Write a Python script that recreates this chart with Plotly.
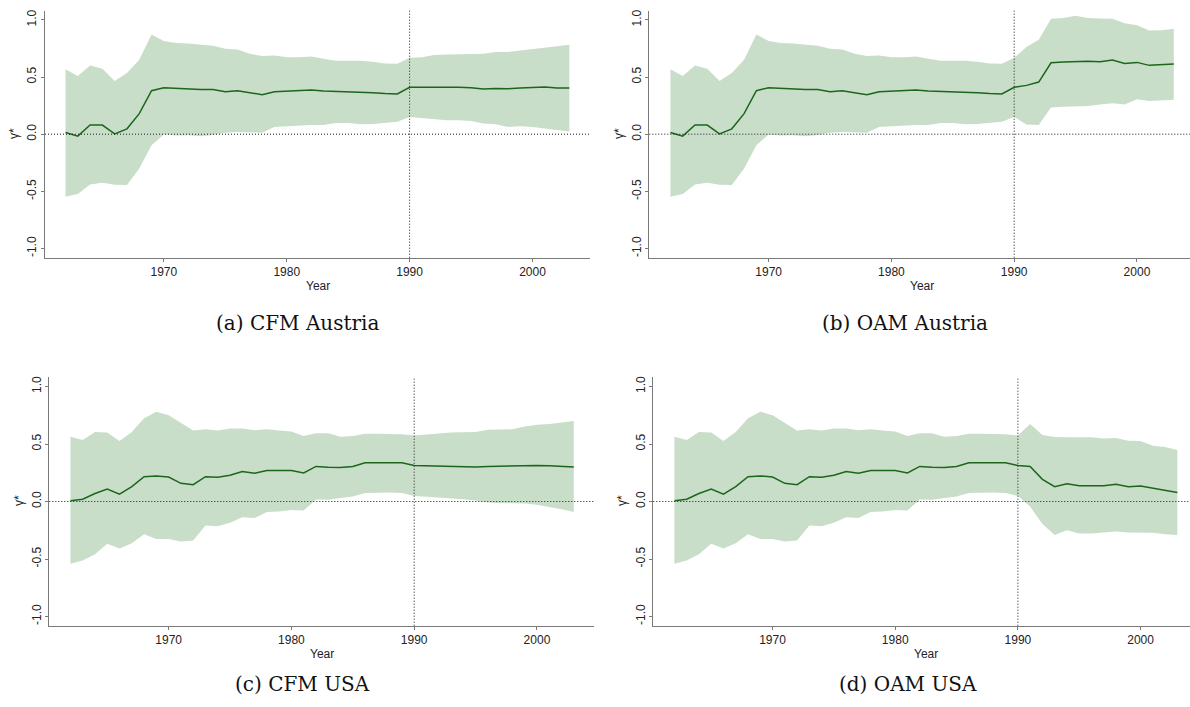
import plotly.graph_objects as go

# Estimation years
years = list(range(1962, 2004))

# (a) CFM Austria
cfm_at_mean = [0.015, -0.017, 0.08, 0.08, 0.003, 0.047, 0.18, 0.38, 0.407, 0.40,
               0.398, 0.39, 0.39, 0.372, 0.38, 0.363, 0.346, 0.372, 0.375, 0.38,
               0.386, 0.378, 0.375, 0.375, 0.372, 0.363, 0.355, 0.352, 0.41, 0.41,
               0.416, 0.41, 0.41, 0.407, 0.395, 0.40, 0.398, 0.404, 0.407, 0.413,
               0.404, 0.404]
cfm_at_upper = [0.567, 0.509, 0.60, 0.573, 0.465, 0.535, 0.651, 0.872, 0.814, 0.797,
                0.794, 0.782, 0.773, 0.747, 0.741, 0.703, 0.683, 0.689, 0.674, 0.672,
                0.680, 0.66, 0.642, 0.642, 0.642, 0.634, 0.619, 0.616, 0.669, 0.672,
                0.692, 0.698, 0.70, 0.703, 0.703, 0.718, 0.718, 0.733, 0.747, 0.756,
                0.77, 0.782]
cfm_at_lower = [-0.547, -0.523, -0.439, -0.424, -0.442, -0.445, -0.30, -0.096, -0.003, -0.012,
                -0.009, -0.017, -0.006, 0.012, 0.02, 0.015, 0.012, 0.064, 0.07, 0.078,
                0.081, 0.081, 0.099, 0.099, 0.087, 0.09, 0.096, 0.108, 0.151, 0.14,
                0.131, 0.122, 0.122, 0.116, 0.093, 0.087, 0.064, 0.07, 0.064, 0.052,
                0.041, 0.023]

# (b) OAM Austria
oam_at_mean = [0.015, -0.017, 0.08, 0.08, 0.003, 0.047, 0.18, 0.38, 0.407, 0.40,
               0.398, 0.39, 0.39, 0.372, 0.38, 0.363, 0.346, 0.372, 0.375, 0.38,
               0.386, 0.378, 0.375, 0.375, 0.372, 0.363, 0.355, 0.352, 0.41, 0.427,
               0.456, 0.625, 0.631, 0.637, 0.637, 0.634, 0.648, 0.619, 0.628, 0.602,
               0.605, 0.613]
oam_at_upper = [0.567, 0.509, 0.60, 0.573, 0.465, 0.535, 0.651, 0.872, 0.814, 0.797,
                0.794, 0.782, 0.773, 0.747, 0.741, 0.703, 0.683, 0.689, 0.674, 0.672,
                0.680, 0.66, 0.642, 0.642, 0.642, 0.634, 0.619, 0.616, 0.669, 0.762,
                0.826, 1.009, 1.017, 1.035, 1.017, 1.012, 1.009, 0.971, 0.953, 0.907,
                0.91, 0.922]
oam_at_lower = [-0.547, -0.523, -0.439, -0.424, -0.442, -0.445, -0.30, -0.096, -0.003, -0.012,
                -0.009, -0.017, -0.006, 0.012, 0.02, 0.015, 0.012, 0.064, 0.07, 0.078,
                0.081, 0.081, 0.099, 0.099, 0.087, 0.09, 0.096, 0.108, 0.151, 0.084,
                0.081, 0.233, 0.241, 0.244, 0.247, 0.259, 0.27, 0.259, 0.305, 0.291,
                0.294, 0.302]

# (c) CFM USA
cfm_us_mean = [0.006, 0.02, 0.07, 0.108, 0.064, 0.129, 0.216, 0.222, 0.213, 0.158,
               0.146, 0.216, 0.21, 0.228, 0.26, 0.246, 0.269, 0.269, 0.269, 0.248,
               0.305, 0.298, 0.295, 0.304, 0.336, 0.336, 0.336, 0.336, 0.313, 0.31,
               0.31, 0.307, 0.301, 0.301, 0.304, 0.307, 0.307, 0.31, 0.313, 0.31,
               0.307, 0.301]
cfm_us_upper = [0.564, 0.535, 0.605, 0.599, 0.526, 0.605, 0.725, 0.781, 0.749, 0.684,
                0.617, 0.629, 0.617, 0.635, 0.635, 0.62, 0.629, 0.617, 0.608, 0.57,
                0.594, 0.594, 0.564, 0.57, 0.59, 0.59, 0.587, 0.585, 0.573, 0.582,
                0.59, 0.599, 0.602, 0.605, 0.623, 0.626, 0.629, 0.652, 0.667, 0.675,
                0.684, 0.699]
cfm_us_lower = [-0.541, -0.512, -0.459, -0.368, -0.409, -0.363, -0.284, -0.327, -0.327, -0.348,
                -0.339, -0.208, -0.216, -0.184, -0.137, -0.143, -0.091, -0.088, -0.073, -0.078,
                0.018, 0.015, 0.03, 0.044, 0.073, 0.079, 0.079, 0.073, 0.047, 0.041,
                0.035, 0.029, 0.02, 0.009, -0.009, -0.015, -0.018, -0.018, -0.029, -0.047,
                -0.067, -0.091]

# (d) OAM USA
oam_us_mean = [0.006, 0.02, 0.07, 0.108, 0.064, 0.129, 0.216, 0.222, 0.213, 0.158,
               0.146, 0.216, 0.21, 0.228, 0.26, 0.246, 0.269, 0.269, 0.269, 0.248,
               0.305, 0.298, 0.295, 0.304, 0.336, 0.336, 0.336, 0.336, 0.313, 0.304,
               0.193, 0.129, 0.155, 0.137, 0.137, 0.137, 0.149, 0.129, 0.135, 0.117,
               0.099, 0.079]
oam_us_upper = [0.564, 0.535, 0.605, 0.599, 0.526, 0.605, 0.725, 0.781, 0.749, 0.684,
                0.617, 0.629, 0.617, 0.635, 0.635, 0.62, 0.629, 0.617, 0.608, 0.57,
                0.594, 0.594, 0.564, 0.57, 0.59, 0.59, 0.587, 0.585, 0.573, 0.673,
                0.579, 0.561, 0.558, 0.558, 0.558, 0.547, 0.553, 0.529, 0.526, 0.485,
                0.474, 0.447]
oam_us_lower = [-0.541, -0.512, -0.459, -0.368, -0.409, -0.363, -0.284, -0.327, -0.327, -0.348,
                -0.339, -0.208, -0.216, -0.184, -0.137, -0.143, -0.091, -0.088, -0.073, -0.078,
                0.018, 0.015, 0.03, 0.044, 0.073, 0.079, 0.079, 0.073, 0.047, -0.044,
                -0.196, -0.292, -0.251, -0.278, -0.278, -0.269, -0.26, -0.269, -0.269, -0.272,
                -0.284, -0.292]

captions = ["(a) CFM Austria", "(b) OAM Austria", "(c) CFM USA", "(d) OAM USA"]
y_tickvals = [-1.0, -0.5, 0.0, 0.5, 1.0]
y_ticktext = ["-1.0", "-0.5", "0.0", "0.5", "1.0"]
x_tickvals = [1970, 1980, 1990, 2000]
break_year = 1990

W, H = 1190, 707
BAND = "#c9dec9"
LINE = "#1c661c"
AXIS = "#7a7a7a"
TICKFONT = dict(family="Liberation Sans, Arial, sans-serif", size=12, color="#222222")
DOTTED = dict(color="#1a1a1a", width=1, dash="1px,2px")

panels = [
    dict(mean=cfm_at_mean, upper=cfm_at_upper, lower=cfm_at_lower,
         px=(45, 590), py=(10.7, 257.7), xr=(1960.33, 2004.68),
         ytitle=(14, 134), xtitle=(318, 286), cap=(297, 323)),
    dict(mean=oam_at_mean, upper=oam_at_upper, lower=oam_at_lower,
         px=(649.3, 1190), py=(10.7, 257.7), xr=(1960.28, 2004.32),
         ytitle=(619, 134), xtitle=(921.7, 286), cap=(905, 323)),
    dict(mean=cfm_us_mean, upper=cfm_us_upper, lower=cfm_us_lower,
         px=(49.3, 594.3), py=(377.3, 625.7), xr=(1960.28, 2004.67),
         ytitle=(19, 501), xtitle=(322, 654), cap=(302, 684)),
    dict(mean=oam_us_mean, upper=oam_us_upper, lower=oam_us_lower,
         px=(653.3, 1190), py=(377.3, 625.7), xr=(1960.28, 2004.03),
         ytitle=(622, 501), xtitle=(926, 654), cap=(908, 684)),
]

fig = go.Figure()
annotations = []
shapes = []
layout = {}

for i, p in enumerate(panels):
    n = "" if i == 0 else str(i + 1)
    xa, ya = "x" + n, "y" + n

    # confidence band
    fig.add_trace(go.Scatter(x=years, y=p["lower"], xaxis=xa, yaxis=ya, mode="lines",
                             line=dict(width=0, color=BAND), hoverinfo="skip",
                             showlegend=False))
    fig.add_trace(go.Scatter(x=years, y=p["upper"], xaxis=xa, yaxis=ya, mode="lines",
                             line=dict(width=0, color=BAND), fill="tonexty",
                             fillcolor=BAND, hoverinfo="skip", showlegend=False))
    # point estimate
    fig.add_trace(go.Scatter(x=years, y=p["mean"], xaxis=xa, yaxis=ya, mode="lines",
                             line=dict(width=1.5, color=LINE), showlegend=False))

    x0, x1 = p["px"]
    yt, yb = p["py"]
    layout["xaxis" + n] = dict(
        domain=[x0 / W, min(x1 / W, 1.0)], range=list(p["xr"]), anchor=ya,
        showgrid=False, zeroline=False, showline=True, linecolor=AXIS, linewidth=1,
        ticks="outside", ticklen=3, tickcolor=AXIS, tickvals=x_tickvals,
        tickfont=TICKFONT,
    )
    layout["yaxis" + n] = dict(
        domain=[1 - yb / H, 1 - yt / H], range=[-1.08, 1.08], anchor=xa,
        showgrid=False, zeroline=False, showline=True, linecolor=AXIS, linewidth=1,
        ticks="outside", ticklen=3, tickcolor=AXIS, tickvals=y_tickvals,
        ticktext=y_ticktext, tickangle=-90, tickfont=TICKFONT,
    )

    # reference lines at zero and at the break year
    shapes.append(dict(type="line", xref=xa + " domain", yref=ya, x0=0, x1=1, y0=0, y1=0,
                       line=DOTTED, layer="above"))
    shapes.append(dict(type="line", xref=xa, yref=ya + " domain", x0=break_year, x1=break_year,
                       y0=0, y1=1, line=DOTTED, layer="above"))

    annotations.append(dict(text="γ*", x=p["ytitle"][0] / W, y=1 - p["ytitle"][1] / H,
                            xref="paper", yref="paper", showarrow=False, textangle=-90,
                            xanchor="center", yanchor="middle", font=TICKFONT))
    annotations.append(dict(text="Year", x=p["xtitle"][0] / W, y=1 - p["xtitle"][1] / H,
                            xref="paper", yref="paper", showarrow=False,
                            xanchor="center", yanchor="middle", font=TICKFONT))
    annotations.append(dict(text=captions[i], x=p["cap"][0] / W, y=1 - p["cap"][1] / H,
                            xref="paper", yref="paper", showarrow=False,
                            xanchor="center", yanchor="middle",
                            font=dict(family="DejaVu Serif, serif", size=20, color="#111111")))

fig.update_layout(
    width=W, height=H, margin=dict(l=0, r=0, t=0, b=0),
    paper_bgcolor="white", plot_bgcolor="white",
    annotations=annotations, shapes=shapes, **layout,
)

fig.write_html("out.html")
